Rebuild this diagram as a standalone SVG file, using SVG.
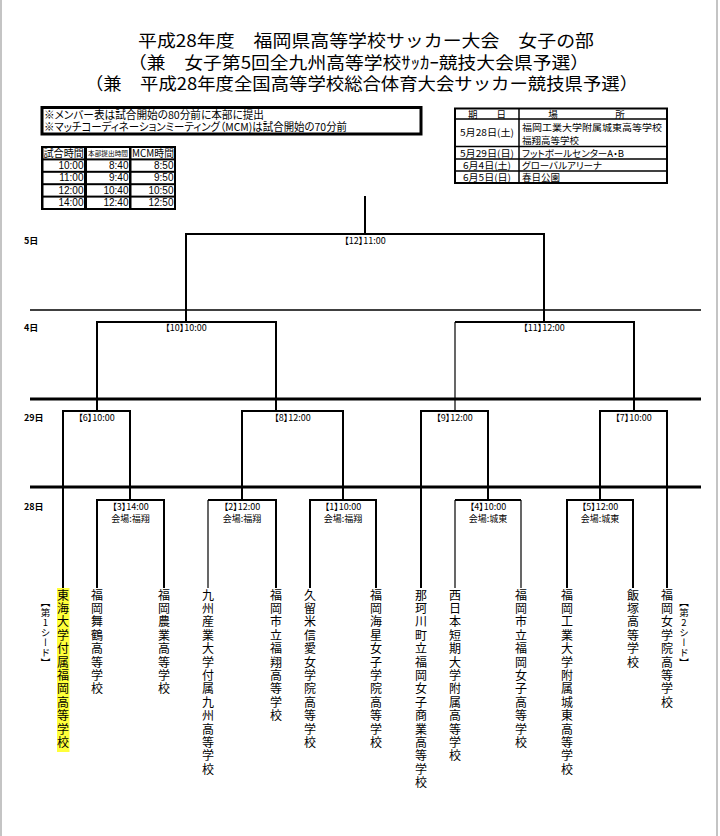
<svg xmlns="http://www.w3.org/2000/svg" width="720" height="836" viewBox="0 0 720 836">
<style>
text{font-family:"Noto Sans CJK JP","Liberation Sans",sans-serif;fill:#000}
.ttl{font-size:17px}
.note{font-size:11px;font-feature-settings:"palt"}
.th{font-size:10px}
.td{font-size:10px;font-family:"Liberation Sans","Noto Sans CJK JP",sans-serif;text-anchor:end}
.vt{font-size:9.5px;font-feature-settings:"palt"}
.day{font-size:9px;font-weight:bold}
.lb{font-size:9px;text-anchor:middle;font-feature-settings:"palt"}
.sc{font-size:12px;writing-mode:vertical-rl;letter-spacing:1.4px}
.seed{font-size:9.5px;writing-mode:vertical-rl;letter-spacing:0.5px}
.b{fill:none;stroke:#000;stroke-width:2}
.bt{fill:none;stroke:#000;stroke-width:1.2}
.sep{stroke:#000;stroke-width:3}
</style>
<rect x="0" y="0" width="720" height="836" fill="#fff"/>
<line x1="1" y1="0" x2="1" y2="836" stroke="#b0b0b0" stroke-width="1.5"/>
<line x1="717" y1="0" x2="717" y2="836" stroke="#b0b0b0" stroke-width="1.5"/>

<g id="title">
<text class="ttl" x="138" y="47" textLength="456" lengthAdjust="spacingAndGlyphs">平成28年度　福岡県高等学校サッカー大会　女子の部</text>
<text class="ttl" x="128" y="69" textLength="461" lengthAdjust="spacingAndGlyphs">（兼　女子第5回全九州高等学校ｻｯｶｰ競技大会県予選）</text>
<text class="ttl" x="85" y="90" textLength="553" lengthAdjust="spacingAndGlyphs">（兼　平成28年度全国高等学校総合体育大会サッカー競技県予選）</text>
</g>

<g id="notes">
<rect x="42" y="107.5" width="379" height="26.5" fill="none" stroke="#000" stroke-width="3"/>
<text class="note" x="44" y="119" textLength="220" lengthAdjust="spacingAndGlyphs">※メンバー表は試合開始の80分前に本部に提出</text>
<text class="note" x="44" y="131" textLength="303" lengthAdjust="spacingAndGlyphs">※マッチコーディネーションミーティング（MCM)は試合開始の70分前</text>
</g>

<g id="time-table">
<rect x="41" y="146" width="135" height="64" fill="#000"/>
<g fill="#fff">
<rect x="43.5" y="148" width="40.5" height="10.4"/><rect x="87" y="148" width="42" height="10.4"/><rect x="131.5" y="148" width="42.5" height="10.4"/>
<rect x="43.5" y="160.4" width="40.5" height="10.4"/><rect x="87" y="160.4" width="42" height="10.4"/><rect x="131.5" y="160.4" width="42.5" height="10.4"/>
<rect x="43.5" y="172.8" width="40.5" height="10.4"/><rect x="87" y="172.8" width="42" height="10.4"/><rect x="131.5" y="172.8" width="42.5" height="10.4"/>
<rect x="43.5" y="185.2" width="40.5" height="10.4"/><rect x="87" y="185.2" width="42" height="10.4"/><rect x="131.5" y="185.2" width="42.5" height="10.4"/>
<rect x="43.5" y="197.6" width="40.5" height="10.4"/><rect x="87" y="197.6" width="42" height="10.4"/><rect x="131.5" y="197.6" width="42.5" height="10.4"/>
</g>
<text class="th" x="43.5" y="157.3" textLength="40.5" lengthAdjust="spacingAndGlyphs">試合時間</text>
<text x="88" y="155.8" style="font-size:6.3px" textLength="40" lengthAdjust="spacingAndGlyphs">本部提出時間</text>
<text class="th" x="132" y="157.3" textLength="42" lengthAdjust="spacingAndGlyphs">MCM時間</text>
<text class="td" x="83.5" y="169">10:00</text><text class="td" x="128.5" y="169">8:40</text><text class="td" x="173.5" y="169">8:50</text>
<text class="td" x="83.5" y="181.4">11:00</text><text class="td" x="128.5" y="181.4">9:40</text><text class="td" x="173.5" y="181.4">9:50</text>
<text class="td" x="83.5" y="193.8">12:00</text><text class="td" x="128.5" y="193.8">10:40</text><text class="td" x="173.5" y="193.8">10:50</text>
<text class="td" x="83.5" y="206.2">14:00</text><text class="td" x="128.5" y="206.2">12:40</text><text class="td" x="173.5" y="206.2">12:50</text>
</g>

<g id="venue-table">
<rect x="455" y="108.5" width="212" height="74.5" fill="none" stroke="#000" stroke-width="2"/>
<g stroke="#000" stroke-width="1.5">
<line x1="519" y1="108.5" x2="519" y2="183"/>
<line x1="455" y1="119" x2="667" y2="119"/>
<line x1="455" y1="146.5" x2="667" y2="146.5"/>
<line x1="455" y1="159" x2="667" y2="159"/>
<line x1="455" y1="171" x2="667" y2="171"/>
</g>
<text class="vt" x="487" y="117.5" text-anchor="middle">期　　日</text>
<text class="vt" x="553" y="117.5" text-anchor="middle">場</text>
<text class="vt" x="620" y="117.5" text-anchor="middle">所</text>
<text class="vt" x="460" y="136" textLength="54" lengthAdjust="spacingAndGlyphs">5月28日(土)</text>
<text class="vt" x="522" y="131" textLength="140" lengthAdjust="spacingAndGlyphs">福岡工業大学附属城東高等学校</text>
<text class="vt" x="522" y="144">福翔高等学校</text>
<text class="vt" x="460" y="156.5" textLength="54" lengthAdjust="spacingAndGlyphs">5月29日(日)</text>
<text class="vt" x="522" y="156.5">フットボールセンターA・B</text>
<text class="vt" x="463" y="168.5" textLength="48" lengthAdjust="spacingAndGlyphs">6月4日(土)</text>
<text class="vt" x="522" y="168.5">グローバルアリーナ</text>
<text class="vt" x="463" y="180.5" textLength="48" lengthAdjust="spacingAndGlyphs">6月5日(日)</text>
<text class="vt" x="522" y="180.5">春日公園</text>
</g>

<g id="day-rows">
<line x1="30" y1="310" x2="701" y2="310" stroke="#000" stroke-width="1.5"/>
<line class="sep" x1="30" y1="399" x2="701" y2="399"/>
<line class="sep" x1="30" y1="487" x2="701" y2="487"/>
<text class="day" x="24" y="244">5日</text>
<text class="day" x="24" y="331">4日</text>
<text class="day" x="24" y="421">29日</text>
<text class="day" x="24" y="510">28日</text>
</g>

<g id="connectors">
<path class="b" d="M365,196 V234"/>
<path class="b" d="M186,322 V234 H544 V322"/>
<path class="b" d="M97,411 V322 H276 V411"/>
<path class="b" d="M634,411 V322 H455"/>
<path class="bt" d="M455,322 V411"/>
<path class="b" d="M63,588 V411 H130 V500"/>
<path class="b" d="M242,500 V411 H343 V500"/>
<path class="b" d="M421,588 V411 H488 V500"/>
<path class="b" d="M600,500 V411 H667 V588"/>
<path class="b" d="M97,588 V500 H164 V588"/>
<path class="bt" d="M208,588 V500"/><path class="b" d="M208,500 H276 V588"/>
<path class="b" d="M310,588 V500 H376 V588"/>
<path class="bt" d="M455,588 V500"/><path class="b" d="M455,500 H521"/><path class="bt" d="M521,500 V588"/>
<path class="b" d="M567,588 V500 H633 V588"/>
</g>

<g id="m12"><text class="lb" x="365" y="244">【12】11:00</text></g>
<g id="m10"><text class="lb" x="186" y="331">【10】10:00</text></g>
<g id="m11"><text class="lb" x="544" y="331">【11】12:00</text></g>
<g id="m6"><text class="lb" x="96.5" y="421">【6】10:00</text></g>
<g id="m8"><text class="lb" x="292.5" y="421">【8】12:00</text></g>
<g id="m9"><text class="lb" x="454.5" y="421">【9】12:00</text></g>
<g id="m7"><text class="lb" x="633.5" y="421">【7】10:00</text></g>
<g id="m3"><text class="lb" x="130.5" y="510">【3】14:00</text><text class="lb" x="130.5" y="522">会場:福翔</text></g>
<g id="m2"><text class="lb" x="242" y="510">【2】12:00</text><text class="lb" x="242" y="522">会場:福翔</text></g>
<g id="m1"><text class="lb" x="343" y="510">【1】10:00</text><text class="lb" x="343" y="522">会場:福翔</text></g>
<g id="m4"><text class="lb" x="488" y="510">【4】10:00</text><text class="lb" x="488" y="522">会場:城東</text></g>
<g id="m5"><text class="lb" x="600" y="510">【5】12:00</text><text class="lb" x="600" y="522">会場:城東</text></g>

<g id="team1"><rect x="57" y="588" width="12.5" height="164" fill="#ffff3a"/><text class="sc" x="63" y="589">東海大学付属福岡高等学校</text></g>
<g id="seed1"><text class="seed" x="45.5" y="598">【第<tspan style="text-orientation:upright">1</tspan>シード】</text></g>
<g id="team2"><text class="sc" x="97" y="589">福岡舞鶴高等学校</text></g>
<g id="team3"><text class="sc" x="164" y="589">福岡農業高等学校</text></g>
<g id="team4"><text class="sc" x="208" y="589">九州産業大学付属九州高等学校</text></g>
<g id="team5"><text class="sc" x="276" y="589">福岡市立福翔高等学校</text></g>
<g id="team6"><text class="sc" x="310" y="589">久留米信愛女学院高等学校</text></g>
<g id="team7"><text class="sc" x="376" y="589">福岡海星女子学院高等学校</text></g>
<g id="team8"><text class="sc" x="421" y="589">那珂川町立福岡女子商業高等学校</text></g>
<g id="team9"><text class="sc" x="455" y="589">西日本短期大学附属高等学校</text></g>
<g id="team10"><text class="sc" x="521" y="589">福岡市立福岡女子高等学校</text></g>
<g id="team11"><text class="sc" x="567" y="589">福岡工業大学附属城東高等学校</text></g>
<g id="team12"><text class="sc" x="633" y="589">飯塚高等学校</text></g>
<g id="team13"><text class="sc" x="667" y="589">福岡女学院高等学校</text></g>
<g id="seed2"><text class="seed" x="684" y="598">【第<tspan style="text-orientation:upright">2</tspan>シード】</text></g>
</svg>
